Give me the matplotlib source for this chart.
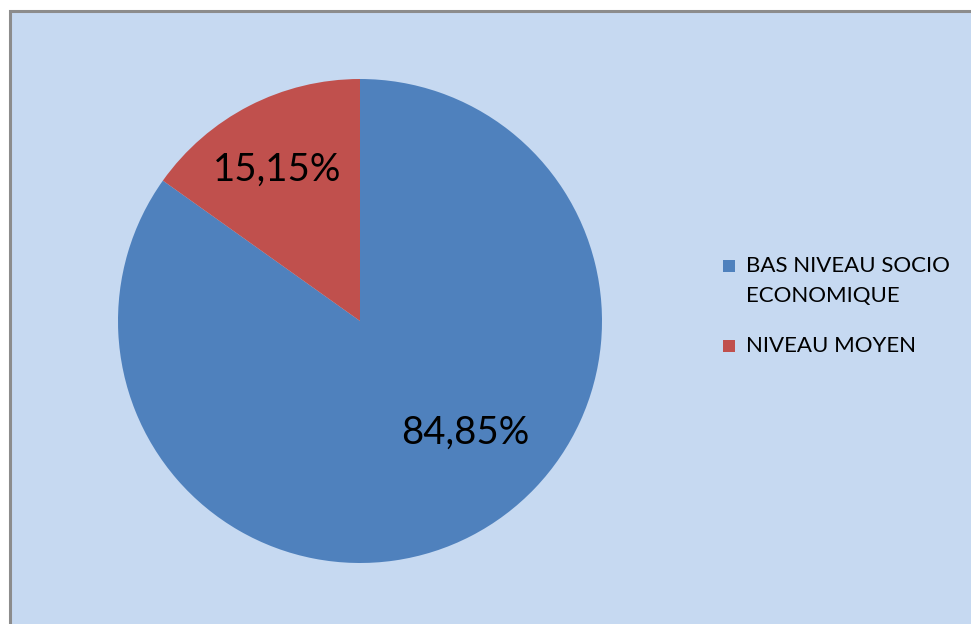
import matplotlib.pyplot as plt
from matplotlib.patches import Rectangle

categories = ["BAS NIVEAU SOCIO\nECONOMIQUE", "NIVEAU MOYEN"]
values = [84.85, 15.15]
colors = ["#4F81BD", "#C0504D"]

plt.rcParams['font.family'] = ['Lato', 'DejaVu Sans']

fig = plt.figure(figsize=(9.71, 6.24), dpi=100)
W, H = 971, 624

# chart area background with grey frame, on its own axes underneath
bg = fig.add_axes([0, 0, 1, 1], zorder=-1)
bg.set_xlim(0, W)
bg.set_ylim(H, 0)
bg.axis("off")
bg.add_patch(Rectangle((9.5, 11), W + 20, H + 20, facecolor="#C6D9F1",
                       edgecolor="#8C8C8C", linewidth=2.2))

# legend
leg_y = [266, 346]
for c, lab, y in zip(colors, categories, leg_y):
    bg.add_patch(Rectangle((723, y - 6), 12, 12, facecolor=c, edgecolor="none"))
    bg.text(746, y - 10, lab, ha="left", va="top", fontsize=16,
            linespacing=1.6, color="black")

ax = fig.add_axes([(360 - 242) / W, (624 - 321 - 242) / H, 484 / W, 484 / H])
ax.pie(values, colors=colors, startangle=90, counterclock=False,
       radius=1, wedgeprops=dict(linewidth=0))
ax.set_xlim(-1, 1)
ax.set_ylim(-1, 1)
ax.set_aspect("equal")
ax.axis("off")

label_pos = [(0.435, -0.46), (-0.343, 0.625)]
for v, (x, y) in zip(values, label_pos):
    ax.text(x, y, f"{v:.2f}%".replace(".", ","), ha="center", va="center",
            fontsize=27.5, color="black")

fig.savefig("out.png", dpi=100)
